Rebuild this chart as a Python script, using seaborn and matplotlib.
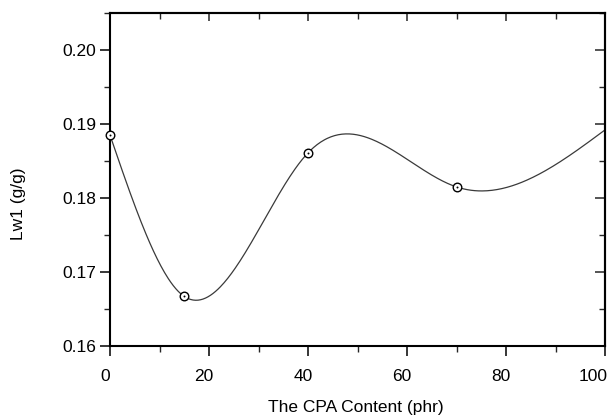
import numpy as np
import pandas as pd
import matplotlib
matplotlib.use("Agg")
import matplotlib.pyplot as plt
import matplotlib.transforms as mtransforms
from matplotlib.ticker import MultipleLocator
import seaborn as sns

# ---- data ----
cpa_content = [0, 15, 40, 70]
lw1 = [0.1885, 0.1667, 0.1861, 0.1815]
# knots of the drawn spline (data points plus the curve end at the right edge)
curve_x = [0, 15, 40, 70, 100]
curve_y = [0.1885, 0.1667, 0.1861, 0.1815, 0.1892]
x_ticks = [0, 20, 40, 60, 80, 100]
y_ticks = [0.16, 0.17, 0.18, 0.19, 0.20]
x_label = "The CPA Content (phr)"
y_label = "Lw1 (g/g)"


def natural_spline(x, y, xs):
    x = np.asarray(x, float); y = np.asarray(y, float)
    n = len(x); h = np.diff(x)
    A = np.zeros((n, n)); b = np.zeros(n)
    A[0, 0] = 1; A[-1, -1] = 1
    for i in range(1, n - 1):
        A[i, i - 1] = h[i - 1]; A[i, i] = 2 * (h[i - 1] + h[i]); A[i, i + 1] = h[i]
        b[i] = 3 * ((y[i + 1] - y[i]) / h[i] - (y[i] - y[i - 1]) / h[i - 1])
    c = np.linalg.solve(A, b)
    out = np.empty_like(xs)
    for k, xv in enumerate(xs):
        i = min(max(np.searchsorted(x, xv) - 1, 0), n - 2)
        bi = (y[i + 1] - y[i]) / h[i] - h[i] * (2 * c[i] + c[i + 1]) / 3
        di = (c[i + 1] - c[i]) / (3 * h[i])
        t = xv - x[i]
        out[k] = y[i] + bi * t + c[i] * t ** 2 + di * t ** 3
    return out


sns.set_style("ticks")
plt.rcParams["font.family"] = ["Liberation Sans", "DejaVu Sans"]

fig = plt.figure(figsize=(6.10, 4.18), dpi=100)
ax = fig.add_axes([110 / 610, 1 - 346 / 418, 495 / 610, 333 / 418])

xs = np.linspace(curve_x[0], curve_x[-1], 400)
curve_df = pd.DataFrame({"x": xs, "y": natural_spline(curve_x, curve_y, xs)})
pts_df = pd.DataFrame({"x": cpa_content, "y": lw1})

sns.lineplot(data=curve_df, x="x", y="y", ax=ax, color="#3a3a3a", linewidth=0.9,
             estimator=None, sort=False)
sns.scatterplot(data=pts_df, x="x", y="y", ax=ax, marker="o", s=38,
                facecolor="white", edgecolor="black", linewidth=1.0, zorder=5, clip_on=False)
sns.scatterplot(data=pts_df, x="x", y="y", ax=ax, marker="o", s=2,
                color="black", linewidth=0, zorder=6, clip_on=False)

ax.set_xlim(0, 100)
ax.set_ylim(0.16, 0.205)
ax.set_xticks(x_ticks)
ax.set_yticks(y_ticks)
ax.set_xticklabels([str(v) for v in x_ticks])
ax.set_yticklabels([f"{v:.2f}" for v in y_ticks])
ax.xaxis.set_minor_locator(MultipleLocator(10))
ax.yaxis.set_minor_locator(MultipleLocator(0.005))

for s in ax.spines.values():
    s.set_linewidth(1.5)
    s.set_color("black")
    s.set_visible(True)

ax.tick_params(which="major", direction="out", length=7.5, width=1.1, labelsize=12.5,
               colors="black", top=False, right=False)
ax.tick_params(axis="x", which="major", pad=9)
ax.tick_params(axis="y", which="major", pad=2.5)
ax.tick_params(which="minor", direction="out", length=4, width=1.0, top=False, right=False)

# mirrored inward ticks on top and right
secx = ax.secondary_xaxis("top")
secx.set_xticks(x_ticks)
secx.xaxis.set_minor_locator(MultipleLocator(10))
secx.tick_params(which="major", direction="in", length=6, width=1.1, labeltop=False)
secx.tick_params(which="minor", direction="in", length=4, width=1.0)
secx.spines["top"].set_linewidth(1.5)
secy = ax.secondary_yaxis("right")
secy.set_yticks(y_ticks)
secy.yaxis.set_minor_locator(MultipleLocator(0.005))
secy.tick_params(which="major", direction="in", length=7.5, width=1.1, labelright=False)
secy.tick_params(which="minor", direction="in", length=4, width=1.0)
secy.spines["right"].set_linewidth(1.5)

# x tick labels sit slightly left of their ticks in the reference;
# the last one is nudged further so it stays inside the figure
labels = ax.get_xticklabels()
for k, lab in enumerate(labels):
    dx = -5 if k < len(labels) - 1 else -12
    shift = mtransforms.ScaledTranslation(dx / 100, 0, fig.dpi_scale_trans)
    lab.set_transform(lab.get_transform() + shift)

ax.set_xlabel(x_label, fontsize=12.5, color="black")
ax.set_ylabel(y_label, fontsize=12.5, color="black")
ax.xaxis.set_label_coords(0.496, -0.186)
ax.xaxis.label.set_va("center")
ax.yaxis.set_label_coords(-0.184, 0.428)
ax.yaxis.label.set_va("center")

fig.savefig("out.png", dpi=100)
